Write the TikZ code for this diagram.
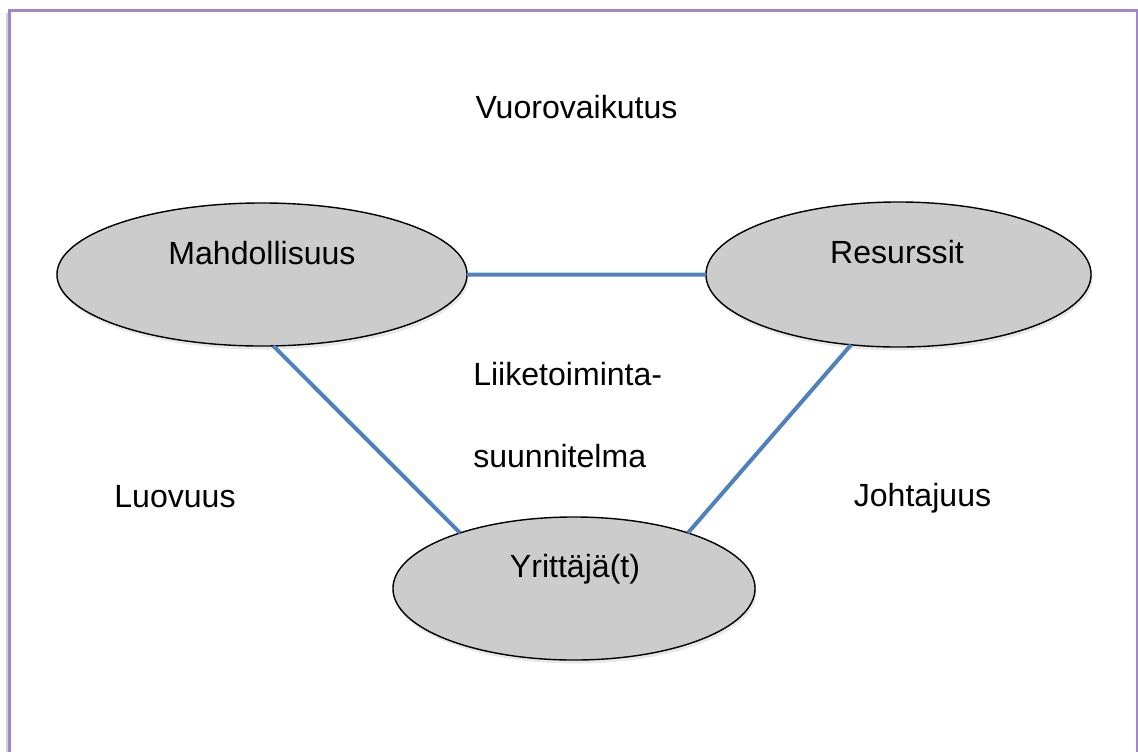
\documentclass[tikz,border=0pt]{standalone}
\usepackage{fontspec}
\setmainfont{Liberation Sans}
\usetikzlibrary{shapes.geometric,shadows}

\definecolor{framepurple}{RGB}{160,136,200}
\definecolor{linkblue}{RGB}{79,129,189}
\definecolor{ovalgray}{RGB}{204,204,204}

\begin{document}
\begin{tikzpicture}[x=0.025cm,y=-0.025cm,
                    font=\fontsize{22.8}{27}\selectfont,
                    oval/.style={ellipse,draw,fill=ovalgray,line width=1pt,
                                 inner sep=0pt,outer sep=0pt,
                                 drop shadow={shadow xshift=1pt,shadow yshift=-2.5pt,opacity=0.18}},
                    link/.style={draw=linkblue,line width=2.85pt},
                    word/.style={inner sep=0pt,anchor=base}]

  \useasboundingbox (0,0) rectangle (1138,751);
  \draw[gray!35,line width=2pt] (7.5,13) -- (7.5,760);
  \draw[framepurple,line width=2pt] (9.5,760) |- (1137,10.5) -- (1137,760);

  \node[oval,minimum width=10.25cm,minimum height=3.575cm]  (mahd)  at (262,274.5)   {};
  \node[oval,minimum width=9.625cm,minimum height=3.625cm]  (res)   at (898.5,274.5) {};
  \node[oval,minimum width=9.05cm,minimum height=3.575cm]   (yritt) at (574,588.5)   {};

  \path[link] (mahd.east) -- (res.west)
              (mahd.-81)  -- (yritt.154)
              (res.-124)  -- (yritt.26);

  \node[word]                   (vuoro)     at (576.5,118) {Vuorovaikutus};
  \node[word]                   (mahdtext)  at (262,264)   {Mahdollisuus};
  \node[word]                   (restext)   at (897,263)   {Resurssit};
  \node[word]                   (yritttext) at (575,577)   {Yrittäjä(t)};
  \node[word,anchor=base west]  (liike)     at (473,385)   {Liiketoiminta-};
  \node[word,anchor=base west]  (suunn)     at (473,467)   {suunnitelma};
  \node[word]                   (luov)      at (175,507)   {Luovuus};
  \node[word]                   (johta)     at (922.5,506) {Johtajuus};
\end{tikzpicture}
\end{document}
